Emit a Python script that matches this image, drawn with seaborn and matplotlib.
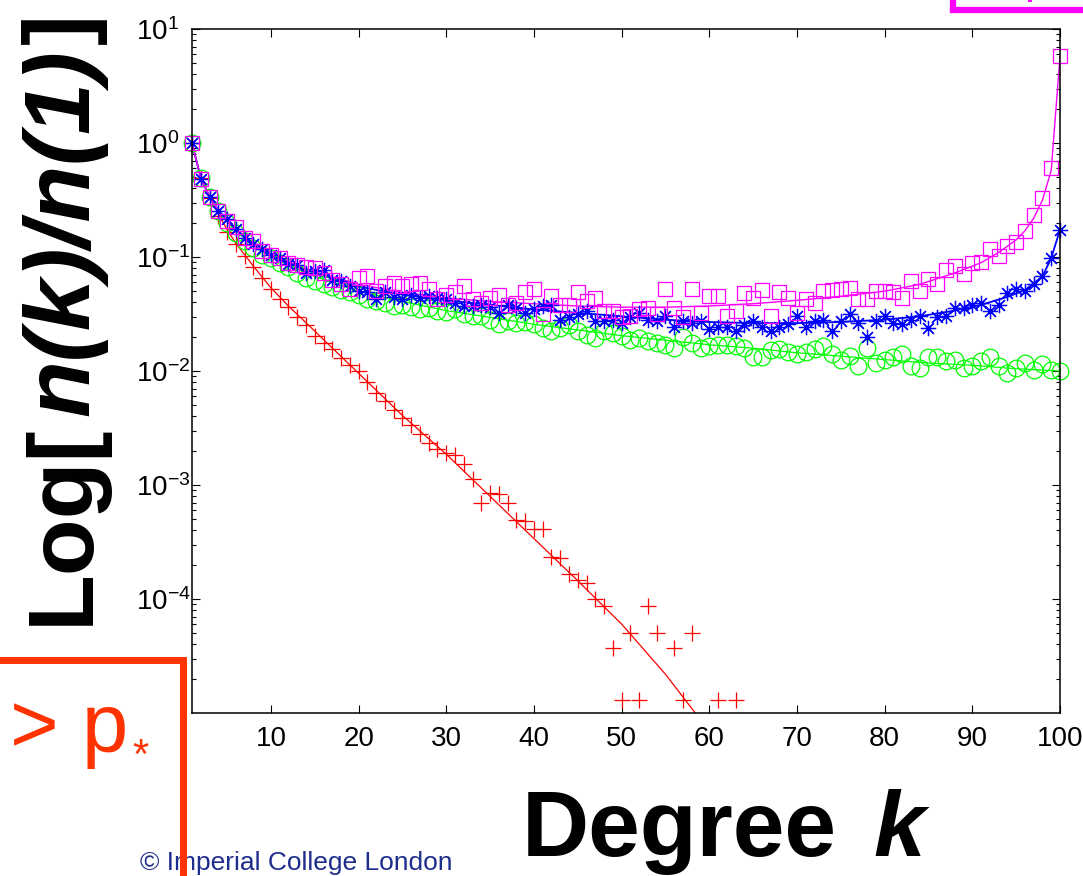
import numpy as np
import pandas as pd
import matplotlib
matplotlib.use("Agg")
import matplotlib.pyplot as plt
import seaborn as sns
from matplotlib.ticker import FixedLocator, LogLocator, LogFormatterSciNotation, NullLocator, NullFormatter
from matplotlib.lines import Line2D

# ---------------- data (log10 of n(k)/n(1)) ----------------
degree = list(range(1, 101))

red_degree = list(range(1, 55)) + [56, 57, 58, 61, 63]
red_log10 = [0.00, -0.31, -0.48, -0.64, -0.78, -0.89, -0.99, -1.09, -1.18, -1.28,
             -1.37, -1.44, -1.53, -1.60, -1.69, -1.75, -1.81, -1.89, -1.95, -2.00,
             -2.10, -2.19, -2.26, -2.34, -2.41, -2.47, -2.55, -2.63, -2.68, -2.72,
             -2.74, -2.82, -2.95, -3.16, -3.07, -3.08, -3.16, -3.31, -3.32, -3.39,
             -3.39, -3.63, -3.64, -3.78, -3.83, -3.86, -4.00, -4.06, -4.43, -4.89,
             -4.30, -4.89, -4.06, -4.30,
             -4.43, -4.89, -4.30, -4.89, -4.89]

green_log10 = [0.00, -0.31, -0.47, -0.60, -0.70, -0.79, -0.86, -0.92, -0.98, -1.01,
               -1.05, -1.09, -1.14, -1.18, -1.21, -1.24, -1.26, -1.29, -1.31, -1.33,
               -1.37, -1.39, -1.40, -1.43, -1.42, -1.44, -1.46, -1.45, -1.47, -1.48,
               -1.46, -1.50, -1.52, -1.52, -1.55, -1.59, -1.56, -1.58, -1.57, -1.59,
               -1.62, -1.65, -1.62, -1.60, -1.65, -1.68, -1.71, -1.65, -1.67, -1.69,
               -1.73, -1.71, -1.74, -1.75, -1.77, -1.80, -1.70, -1.75, -1.80, -1.78,
               -1.77, -1.77, -1.78, -1.80, -1.88, -1.88, -1.82, -1.81, -1.83, -1.85,
               -1.83, -1.81, -1.78, -1.85, -1.90, -1.87, -1.96, -1.80, -1.93, -1.90,
               -1.88, -1.85, -1.96, -1.97, -1.88, -1.88, -1.91, -1.90, -1.97, -1.96,
               -1.91, -1.88, -1.96, -2.02, -1.97, -1.93, -1.99, -1.94, -1.99, -2.00]

blue_log10 = [0.00, -0.32, -0.47, -0.60, -0.67, -0.75, -0.83, -0.89, -0.93, -0.98,
              -1.01, -1.06, -1.07, -1.14, -1.12, -1.11, -1.20, -1.21, -1.25, -1.30,
              -1.31, -1.37, -1.31, -1.35, -1.37, -1.33, -1.36, -1.34, -1.36, -1.37,
              -1.40, -1.43, -1.43, -1.42, -1.44, -1.49, -1.42, -1.45, -1.49, -1.46,
              -1.43, -1.42, -1.55, -1.53, -1.50, -1.47, -1.56, -1.56, -1.55, -1.58,
              -1.53, -1.49, -1.55, -1.56, -1.52, -1.61, -1.56, -1.58, -1.56, -1.63,
              -1.61, -1.61, -1.65, -1.60, -1.56, -1.61, -1.65, -1.61, -1.59, -1.52,
              -1.61, -1.56, -1.55, -1.65, -1.56, -1.50, -1.58, -1.70, -1.56, -1.52,
              -1.58, -1.59, -1.55, -1.52, -1.62, -1.53, -1.52, -1.45, -1.45, -1.42,
              -1.40, -1.47, -1.42, -1.32, -1.28, -1.30, -1.24, -1.17, -1.01, -0.76]

magenta_log10 = [0.00, -0.32, -0.47, -0.60, -0.68, -0.74, -0.83, -0.86, -0.95, -0.98,
                 -1.01, -1.05, -1.07, -1.09, -1.10, -1.14, -1.20, -1.24, -1.28, -1.18,
                 -1.17, -1.30, -1.25, -1.23, -1.25, -1.24, -1.23, -1.28, -1.37, -1.33,
                 -1.31, -1.25, -1.37, -1.40, -1.36, -1.33, -1.42, -1.40, -1.31, -1.28,
                 -1.50, -1.34, -1.42, -1.42, -1.31, -1.39, -1.36, -1.47, -1.47, -1.53,
                 -1.52, -1.46, -1.45, -1.50, -1.28, -1.45, -1.53, -1.28, -1.49, -1.34,
                 -1.34, -1.52, -1.47, -1.32, -1.36, -1.29, -1.52, -1.31, -1.36, -1.49,
                 -1.37, -1.40, -1.30, -1.29, -1.28, -1.27, -1.37, -1.37, -1.30, -1.30,
                 -1.31, -1.36, -1.21, -1.30, -1.19, -1.24, -1.11, -1.08, -1.15, -1.05,
                 -1.04, -0.93, -0.99, -0.90, -0.87, -0.77, -0.63, -0.48, -0.22, 0.76]

# fitted / theoretical curves
red_fit_k = [1, 2, 3, 4, 5, 6, 8, 10, 12, 15, 20, 25, 30, 35, 40, 45, 50, 55, 58.4]
red_fit_log10 = [0, -0.30, -0.47, -0.62, -0.76, -0.88, -1.08, -1.27, -1.43, -1.65,
                 -2.02, -2.39, -2.73, -3.10, -3.47, -3.84, -4.22, -4.66, -5.00]

green_fit_k = [1, 2, 3, 4, 5, 6, 8, 10, 12, 15, 20, 25, 30, 35, 40, 45, 50, 55, 60,
               65, 70, 75, 80, 85, 90, 95, 100]
green_fit_log10 = [0, -0.30, -0.47, -0.59, -0.69, -0.77, -0.90, -1.00, -1.07, -1.17,
                   -1.30, -1.39, -1.47, -1.53, -1.59, -1.64, -1.69, -1.73, -1.77,
                   -1.80, -1.84, -1.87, -1.90, -1.93, -1.95, -1.98, -2.00]

blue_fit_k = [1, 2, 3, 4, 5, 6, 8, 10, 12, 15, 20, 25, 30, 35, 40, 45, 50, 55, 60, 65,
              70, 75, 80, 84, 88, 91, 94, 96, 98, 99, 100]
blue_fit_log10 = [0, -0.31, -0.47, -0.59, -0.68, -0.76, -0.88, -0.98, -1.05, -1.14,
                  -1.26, -1.33, -1.38, -1.42, -1.46, -1.49, -1.52, -1.55, -1.57, -1.58,
                  -1.58, -1.57, -1.55, -1.52, -1.47, -1.42, -1.35, -1.29, -1.17, -1.01,
                  -0.76]

magenta_fit_k = [1, 2, 3, 4, 5, 6, 8, 10, 12, 15, 20, 25, 30, 35, 40, 45, 50, 55, 60, 65,
                 70, 75, 80, 84, 88, 91, 93, 95, 96, 97, 98, 99, 100]
magenta_fit_log10 = [0, -0.31, -0.47, -0.59, -0.68, -0.76, -0.88, -0.97, -1.04, -1.13,
                     -1.24, -1.31, -1.36, -1.39, -1.41, -1.43, -1.44, -1.44, -1.43, -1.41,
                     -1.38, -1.345, -1.30, -1.24, -1.14, -1.05, -0.96, -0.85, -0.77, -0.66,
                     -0.50, -0.24, 0.76]

x_ticks = [10, 20, 30, 40, 50, 60, 70, 80, 90, 100]
y_ticks = [1e-4, 1e-3, 1e-2, 1e-1, 1e0, 1e1]

RED, GREEN, BLUE, MAGENTA = "#ff0000", "#00ff00", "#0000ff", "#ff00ff"
ORANGE = "#ff3300"
NAVY = "#1f2d8c"

# ---------------- style ----------------
sns.set_theme(style="ticks")
plt.rcParams["font.family"] = ["Liberation Sans", "DejaVu Sans"]
plt.rcParams["mathtext.fontset"] = "custom"
plt.rcParams["mathtext.rm"] = "Liberation Sans"
plt.rcParams["mathtext.it"] = "Liberation Sans:italic"
plt.rcParams["mathtext.bf"] = "Liberation Sans:bold"
plt.rcParams["axes.edgecolor"] = "black"
plt.rcParams["text.color"] = "black"
plt.rcParams["xtick.color"] = "black"
plt.rcParams["ytick.color"] = "black"

W, H = 1083, 876


def fx(px):
    return px / W


def fy(py):
    return 1 - py / H


fig = plt.figure(figsize=(W / 100, H / 100), dpi=100)
fig.patch.set_facecolor("white")
ax = fig.add_axes([fx(192), fy(713), (1060 - 192) / W, (713 - 29) / H])
ax.set_facecolor("white")
ax.set_yscale("log")


def to_val(lst):
    return 10.0 ** np.asarray(lst, dtype=float)


def fit_line(k, lg, color, lw):
    d = pd.DataFrame({"k": k, "v": to_val(lg)})
    sns.lineplot(data=d, x="k", y="v", ax=ax, color=color, linewidth=lw,
                 estimator=None, sort=False, zorder=2)


def points(k, lg, color, marker, ms):
    d = pd.DataFrame({"k": k, "v": to_val(lg)})
    sns.lineplot(data=d, x="k", y="v", ax=ax, estimator=None, sort=False,
                 linestyle="", marker=marker, markersize=ms,
                 markerfacecolor="none", markeredgecolor=color,
                 markeredgewidth=0.9, color=color, clip_on=False, zorder=3)


# red
fit_line(red_fit_k, red_fit_log10, RED, 0.9)
points(red_degree, red_log10, RED, "+", 11)
# green
fit_line(green_fit_k, green_fit_log10, GREEN, 0.9)
points(degree, green_log10, GREEN, "o", 12)
# blue
fit_line(blue_fit_k, blue_fit_log10, BLUE, 1.3)
points(degree, blue_log10, BLUE, (8, 2, 0), 11)
# magenta
fit_line(magenta_fit_k, magenta_fit_log10, MAGENTA, 1.0)
points(degree, magenta_log10, MAGENTA, "s", 9.5)

ax.set_xlim(1, 100)
ax.set_ylim(1e-5, 10)
ax.xaxis.set_major_locator(FixedLocator(x_ticks))
ax.xaxis.set_minor_locator(NullLocator())
ax.yaxis.set_major_locator(FixedLocator(y_ticks))
ax.yaxis.set_major_formatter(LogFormatterSciNotation())
ax.yaxis.set_minor_locator(LogLocator(base=10, subs=np.arange(2, 10), numticks=20))
ax.yaxis.set_minor_formatter(NullFormatter())
ax.set_xlabel("")
ax.set_ylabel("")

for sp in ax.spines.values():
    sp.set_linewidth(1.1)
    sp.set_color("black")
    sp.set_zorder(4)

ax.tick_params(which="both", direction="in", top=True, right=True, width=0.8)
ax.tick_params(which="major", length=6)
ax.tick_params(which="minor", length=3)
ax.tick_params(axis="x", labelsize=20, pad=9.5)
# y labels: the "10" base starts at a fixed x (left aligned), exponent to the right
ax.tick_params(axis="y", labelsize=20, pad=(192 - 136) * 0.72)
for lbl in ax.get_yticklabels():
    lbl.set_horizontalalignment("left")

renderer = fig.canvas.get_renderer()

# ---------------- y label: Log[n(k)/n(1)] ----------------
LABEL_FS = 67
ypieces = [("Log[", "normal", 0), ("n(k)/n(1)", "italic", 7), ("]", "normal", 6)]
cur = H - 625  # display coordinate (from bottom) of start
for s, style, gap in ypieces:
    cur += gap
    t = fig.text(fx(88), cur / H, s, rotation=90, rotation_mode="anchor",
                 ha="left", va="baseline", fontsize=LABEL_FS, fontweight="bold",
                 fontstyle=style, color="black")
    bb = t.get_window_extent(renderer)
    cur += bb.height

# ---------------- x label: Degree k ----------------
t1 = fig.text(fx(522), fy(856), "Degree", ha="left", va="baseline",
              fontsize=LABEL_FS, fontweight="bold", color="black")
bb1 = t1.get_window_extent(renderer)
fig.text((bb1.x1 + 36) / W, fy(856), "k", ha="left", va="baseline",
         fontsize=LABEL_FS, fontweight="bold", fontstyle="italic", color="black")

# ---------------- slide decorations ----------------
t2 = fig.text(fx(10), fy(752), "> p", ha="left", va="baseline", fontsize=60,
              color=ORANGE)
bb2 = t2.get_window_extent(renderer)
fig.text((bb2.x1 + 4) / W, fy(768), "*", ha="left", va="baseline", fontsize=30,
         color=ORANGE)

fig.text(fx(140), fy(870), "\u00a9 Imperial College London", ha="left",
         va="baseline", fontsize=19, color=NAVY)

fig.add_artist(Line2D([fx(0), fx(183)], [fy(660), fy(660)], color=ORANGE,
                      linewidth=5, solid_capstyle="projecting", zorder=10))
fig.add_artist(Line2D([fx(183), fx(183)], [fy(660), fy(880)], color=ORANGE,
                      linewidth=5, solid_capstyle="butt", zorder=10))

fig.add_artist(Line2D([fx(953), fx(1090)], [fy(10), fy(10)], color=MAGENTA,
                      linewidth=4.5, solid_capstyle="projecting", zorder=10))
fig.add_artist(Line2D([fx(953), fx(953)], [fy(-5), fy(10)], color=MAGENTA,
                      linewidth=4.5, solid_capstyle="butt", zorder=10))
fig.add_artist(Line2D([fx(1030), fx(1030)], [fy(-3), fy(2)], color=MAGENTA,
                      linewidth=3, solid_capstyle="butt", zorder=10))

fig.savefig("out.png", dpi=100, facecolor="white")
